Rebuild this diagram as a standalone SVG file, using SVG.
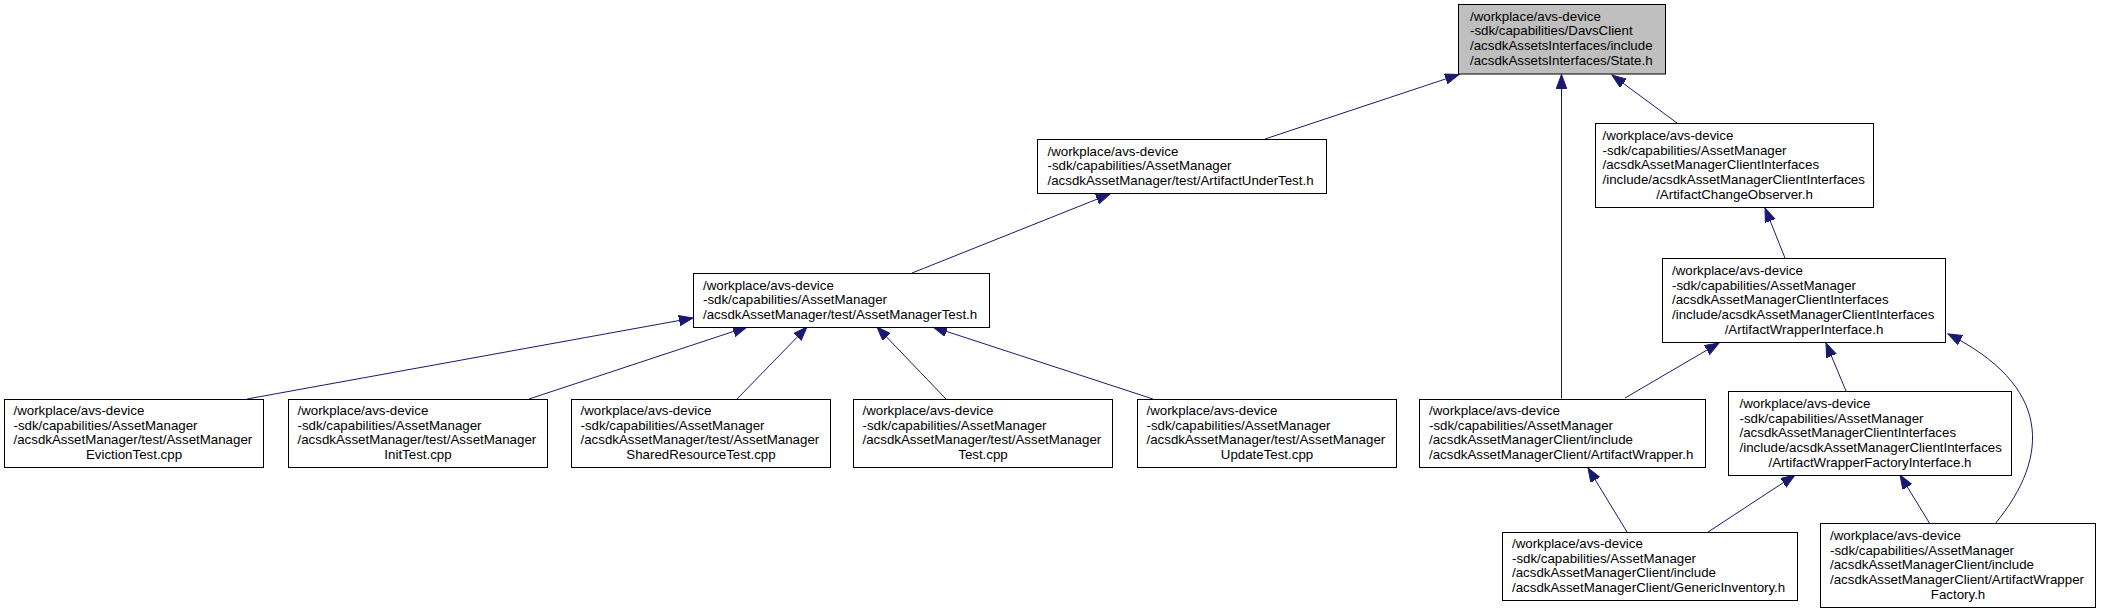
<svg xmlns="http://www.w3.org/2000/svg" width="2101" height="615" viewBox="0 0 2101 615">
<style>
.n rect{fill:#fff;stroke:#000;stroke-width:1}
.n.root rect{fill:#bfbfbf}
.n text{font-family:"Liberation Sans",Arial,sans-serif;font-size:13.3px;fill:#000}
.c{text-anchor:middle}
#edges path{fill:none;stroke:#191970;stroke-width:1}
</style>
<defs>
<marker id="ah" markerUnits="userSpaceOnUse" markerWidth="16" markerHeight="12" refX="14" refY="5.2" orient="auto">
<path d="M0,0 L14,5.2 L0,10.4 z" fill="#191970" stroke="#191970" stroke-width="1"/>
</marker>
</defs>
<rect width="2101" height="615" fill="#fff"/>
<g id="edges">
<path d="M1265,139 L1459,74.5" marker-end="url(#ah)"/>
<path d="M1561.5,398.5 L1561.5,74.5" marker-end="url(#ah)"/>
<path d="M1677,123 L1612,75" marker-end="url(#ah)"/>
<path d="M912,273 L1110,194" marker-end="url(#ah)"/>
<path d="M247,399 L693,318" marker-end="url(#ah)"/>
<path d="M529,399 L747,327" marker-end="url(#ah)"/>
<path d="M737,399 L807,327" marker-end="url(#ah)"/>
<path d="M946,399 L877,327" marker-end="url(#ah)"/>
<path d="M1153,399 L933,327" marker-end="url(#ah)"/>
<path d="M1785,258 L1765,208" marker-end="url(#ah)"/>
<path d="M1625,398 L1719,343" marker-end="url(#ah)"/>
<path d="M1846,391 L1826,343" marker-end="url(#ah)"/>
<path d="M1995,524 C2052,455 2050,385 1948,334" marker-end="url(#ah)"/>
<path d="M1627,532 L1588,468" marker-end="url(#ah)"/>
<path d="M1708,532 L1795,475" marker-end="url(#ah)"/>
<path d="M1930,524 L1900,475" marker-end="url(#ah)"/>
</g>
<g id="state" class="n root">
<rect x="1458.5" y="4.5" width="207" height="69.5"/>
<text><tspan x="1470" y="20.5">/workplace/avs-device</tspan><tspan x="1470" y="35.2">-sdk/capabilities/DavsClient</tspan><tspan x="1470" y="49.8">/acsdkAssetsInterfaces/include</tspan><tspan x="1470" y="64.5">/acsdkAssetsInterfaces/State.h</tspan></text>
</g>
<g id="artifactUnderTest" class="n">
<rect x="1037.5" y="139.5" width="289" height="54"/>
<text><tspan x="1047.5" y="155.5">/workplace/avs-device</tspan><tspan x="1047.5" y="170.2">-sdk/capabilities/AssetManager</tspan><tspan x="1047.5" y="184.8">/acsdkAssetManager/test/ArtifactUnderTest.h</tspan></text>
</g>
<g id="artifactChangeObserver" class="n">
<rect x="1595.5" y="123.5" width="278" height="84"/>
<text><tspan x="1602.5" y="140">/workplace/avs-device</tspan><tspan x="1602.5" y="154.7">-sdk/capabilities/AssetManager</tspan><tspan x="1602.5" y="169.3">/acsdkAssetManagerClientInterfaces</tspan><tspan x="1602.5" y="184">/include/acsdkAssetManagerClientInterfaces</tspan><tspan class="c" x="1734.5" y="198.7">/ArtifactChangeObserver.h</tspan></text>
</g>
<g id="assetManagerTest" class="n">
<rect x="693.5" y="273.5" width="296" height="54"/>
<text><tspan x="703" y="289.5">/workplace/avs-device</tspan><tspan x="703" y="304.2">-sdk/capabilities/AssetManager</tspan><tspan x="703" y="318.8">/acsdkAssetManager/test/AssetManagerTest.h</tspan></text>
</g>
<g id="artifactWrapperInterface" class="n">
<rect x="1662.5" y="258.5" width="283" height="84"/>
<text><tspan x="1672" y="275">/workplace/avs-device</tspan><tspan x="1672" y="289.7">-sdk/capabilities/AssetManager</tspan><tspan x="1672" y="304.3">/acsdkAssetManagerClientInterfaces</tspan><tspan x="1672" y="319">/include/acsdkAssetManagerClientInterfaces</tspan><tspan class="c" x="1804" y="333.7">/ArtifactWrapperInterface.h</tspan></text>
</g>
<g id="evictionTest" class="n">
<rect x="4.5" y="399.5" width="259" height="68"/>
<text><tspan x="13.5" y="415">/workplace/avs-device</tspan><tspan x="13.5" y="429.7">-sdk/capabilities/AssetManager</tspan><tspan x="13.5" y="444.3">/acsdkAssetManager/test/AssetManager</tspan><tspan class="c" x="134" y="459">EvictionTest.cpp</tspan></text>
</g>
<g id="initTest" class="n">
<rect x="288.5" y="399.5" width="259" height="68"/>
<text><tspan x="297.5" y="415">/workplace/avs-device</tspan><tspan x="297.5" y="429.7">-sdk/capabilities/AssetManager</tspan><tspan x="297.5" y="444.3">/acsdkAssetManager/test/AssetManager</tspan><tspan class="c" x="418" y="459">InitTest.cpp</tspan></text>
</g>
<g id="sharedResourceTest" class="n">
<rect x="571.5" y="399.5" width="259" height="68"/>
<text><tspan x="580.5" y="415">/workplace/avs-device</tspan><tspan x="580.5" y="429.7">-sdk/capabilities/AssetManager</tspan><tspan x="580.5" y="444.3">/acsdkAssetManager/test/AssetManager</tspan><tspan class="c" x="701" y="459">SharedResourceTest.cpp</tspan></text>
</g>
<g id="assetManagerTestCpp" class="n">
<rect x="853.5" y="399.5" width="259" height="68"/>
<text><tspan x="862.5" y="415">/workplace/avs-device</tspan><tspan x="862.5" y="429.7">-sdk/capabilities/AssetManager</tspan><tspan x="862.5" y="444.3">/acsdkAssetManager/test/AssetManager</tspan><tspan class="c" x="983" y="459">Test.cpp</tspan></text>
</g>
<g id="updateTest" class="n">
<rect x="1137.5" y="399.5" width="259" height="68"/>
<text><tspan x="1146.5" y="415">/workplace/avs-device</tspan><tspan x="1146.5" y="429.7">-sdk/capabilities/AssetManager</tspan><tspan x="1146.5" y="444.3">/acsdkAssetManager/test/AssetManager</tspan><tspan class="c" x="1267" y="459">UpdateTest.cpp</tspan></text>
</g>
<g id="artifactWrapper" class="n">
<rect x="1419.5" y="399.5" width="286" height="68"/>
<text><tspan x="1429" y="415">/workplace/avs-device</tspan><tspan x="1429" y="429.7">-sdk/capabilities/AssetManager</tspan><tspan x="1429" y="444.3">/acsdkAssetManagerClient/include</tspan><tspan x="1429" y="459">/acsdkAssetManagerClient/ArtifactWrapper.h</tspan></text>
</g>
<g id="artifactWrapperFactoryInterface" class="n">
<rect x="1728.5" y="391.5" width="283" height="84"/>
<text><tspan x="1739.5" y="408">/workplace/avs-device</tspan><tspan x="1739.5" y="422.7">-sdk/capabilities/AssetManager</tspan><tspan x="1739.5" y="437.3">/acsdkAssetManagerClientInterfaces</tspan><tspan x="1739.5" y="452">/include/acsdkAssetManagerClientInterfaces</tspan><tspan class="c" x="1870" y="466.7">/ArtifactWrapperFactoryInterface.h</tspan></text>
</g>
<g id="genericInventory" class="n">
<rect x="1502.5" y="532.5" width="295" height="68"/>
<text><tspan x="1512" y="548">/workplace/avs-device</tspan><tspan x="1512" y="562.7">-sdk/capabilities/AssetManager</tspan><tspan x="1512" y="577.3">/acsdkAssetManagerClient/include</tspan><tspan x="1512" y="592">/acsdkAssetManagerClient/GenericInventory.h</tspan></text>
</g>
<g id="artifactWrapperFactory" class="n">
<rect x="1820.5" y="523.5" width="275" height="84"/>
<text><tspan x="1830" y="540">/workplace/avs-device</tspan><tspan x="1830" y="554.7">-sdk/capabilities/AssetManager</tspan><tspan x="1830" y="569.3">/acsdkAssetManagerClient/include</tspan><tspan x="1830" y="584">/acsdkAssetManagerClient/ArtifactWrapper</tspan><tspan class="c" x="1958" y="598.7">Factory.h</tspan></text>
</g>
</svg>
